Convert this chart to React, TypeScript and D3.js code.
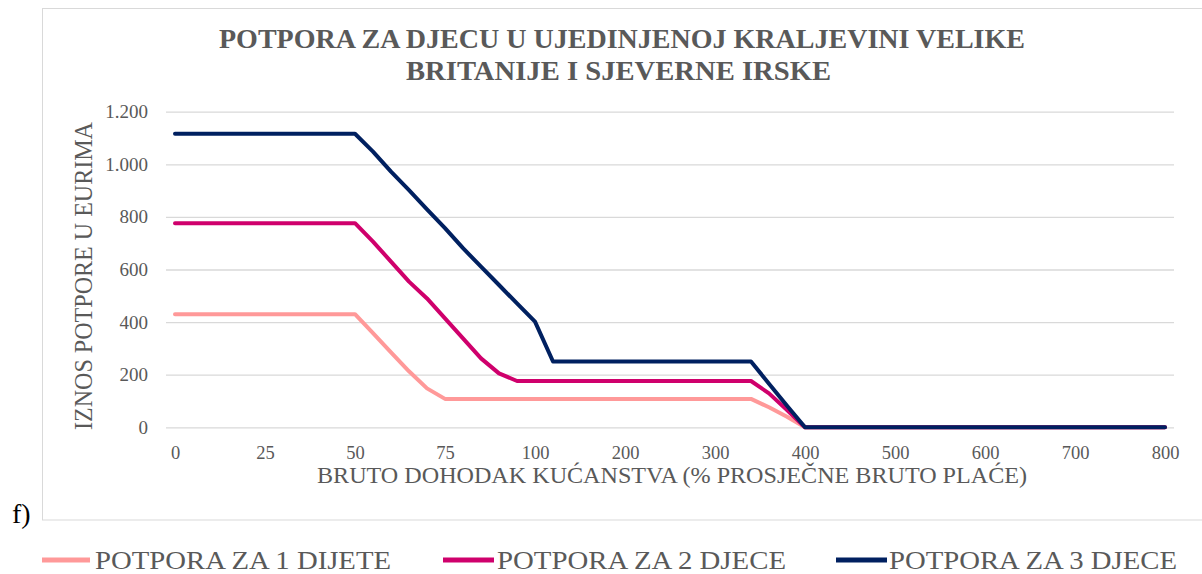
import React, { useRef, useEffect } from "react";
import { select, scaleLinear, scalePoint, line, axisLeft, axisBottom, formatLocale } from "d3";

// income as % of average gross wage (Excel category axis, every 5th shown)
const categories = [
  0, 5, 10, 15, 20, 25, 30, 35, 40, 45, 50, 55, 60, 65, 70, 75, 80, 85, 90, 95, 100,
  120, 140, 160, 180, 200, 220, 240, 260, 280, 300, 320, 340, 360, 380, 400,
  420, 440, 460, 480, 500, 520, 540, 560, 580, 600, 620, 640, 660, 680, 700,
  720, 740, 760, 780, 800,
];
const xTickValues = [0, 25, 50, 75, 100, 200, 300, 400, 500, 600, 700, 800];
const yTickValues = [0, 200, 400, 600, 800, 1000, 1200];

const oneChild = [
  430, 430, 430, 430, 430, 430, 430, 430, 430, 430, 430, 358, 285, 213, 148, 108, 108, 108, 108, 108, 108,
  108, 108, 108, 108, 108, 108, 108, 108, 108, 108, 108, 108, 76, 40, 0,
  0, 0, 0, 0, 0, 0, 0, 0, 0, 0, 0, 0, 0, 0, 0, 0, 0, 0, 0, 0,
];
const twoChildren = [
  776, 776, 776, 776, 776, 776, 776, 776, 776, 776, 776, 706, 630, 554, 490, 414, 338, 262, 205, 176, 176,
  176, 176, 176, 176, 176, 176, 176, 176, 176, 176, 176, 176, 129, 66, 0,
  0, 0, 0, 0, 0, 0, 0, 0, 0, 0, 0, 0, 0, 0, 0, 0, 0, 0, 0, 0,
];
const threeChildren = [
  1116, 1116, 1116, 1116, 1116, 1116, 1116, 1116, 1116, 1116, 1116, 1048, 972, 902, 829, 757, 681, 611, 541, 471, 402,
  250, 250, 250, 250, 250, 250, 250, 250, 250, 250, 250, 250, 166, 82, 0,
  0, 0, 0, 0, 0, 0, 0, 0, 0, 0, 0, 0, 0, 0, 0, 0, 0, 0, 0, 0,
];

const seriesNames = ["POTPORA ZA 1 DIJETE", "POTPORA ZA 2 DJECE", "POTPORA ZA 3 DJECE"];
const seriesColors = ["#FF9999", "#CF006C", "#002060"];

const FONT = "'Liberation Serif', 'Times New Roman', serif";
const GREY = "#595959";

function ChildSupportChart() {
  const svgRef = useRef<SVGSVGElement>(null);

  useEffect(() => {
    const svg = select(svgRef.current);
    svg.selectAll("*").remove();

    const left = 166, right = 1174, top = 111.7, bottom = 427.3;

    const xScale = scalePoint<number>().domain(categories).range([left, right]).padding(0.5);
    const yScale = scaleLinear().domain([0, 1200]).range([bottom, top]);

    const fmt = formatLocale({ decimal: ",", thousands: ".", grouping: [3], currency: ["", "€"] }).format(",d");

    // chart frame
    svg.append("rect")
      .attr("x", 42.5).attr("y", 8.5)
      .attr("width", 1200).attr("height", 511.5)
      .attr("fill", "white").attr("stroke", "#D9D9D9");

    // title
    const title = svg.append("g")
      .attr("font-family", FONT).attr("font-weight", "bold")
      .attr("font-size", 28).attr("fill", GREY);
    title.append("text").attr("x", 219).attr("y", 48)
      .attr("textLength", 806).attr("lengthAdjust", "spacingAndGlyphs")
      .text("POTPORA ZA DJECU U UJEDINJENOJ KRALJEVINI VELIKE");
    title.append("text").attr("x", 406).attr("y", 80)
      .attr("textLength", 425).attr("lengthAdjust", "spacingAndGlyphs")
      .text("BRITANIJE I SJEVERNE IRSKE");

    // y axis + gridlines
    const yAxis = axisLeft(yScale)
      .tickValues(yTickValues)
      .tickSize(-(right - left))
      .tickPadding(18)
      .tickFormat((d) => fmt(d as number));
    const yG = svg.append("g").attr("transform", `translate(${left},0)`).call(yAxis);
    yG.select(".domain").remove();
    yG.selectAll(".tick line").attr("stroke", "#D9D9D9").attr("stroke-width", 1.3);
    yG.selectAll(".tick text")
      .attr("font-family", FONT).attr("font-size", 19).attr("fill", GREY);

    // x axis labels
    const xAxis = axisBottom(xScale)
      .tickValues(xTickValues)
      .tickSize(0)
      .tickPadding(18.5);
    const xG = svg.append("g").attr("transform", `translate(0,${bottom})`).call(xAxis);
    xG.select(".domain").remove();
    xG.selectAll(".tick text")
      .attr("font-family", FONT).attr("font-size", 18.5).attr("fill", GREY);

    // axis titles
    svg.append("text")
      .attr("transform", "translate(92,276) rotate(-90)")
      .attr("text-anchor", "middle")
      .attr("font-family", FONT).attr("font-size", 26).attr("fill", GREY)
      .attr("textLength", 308).attr("lengthAdjust", "spacingAndGlyphs")
      .text("IZNOS POTPORE U EURIMA");
    svg.append("text")
      .attr("x", 317).attr("y", 482.7)
      .attr("font-family", FONT).attr("font-size", 24).attr("fill", GREY)
      .attr("textLength", 710).attr("lengthAdjust", "spacingAndGlyphs")
      .text("BRUTO  DOHODAK KUĆANSTVA (% PROSJEČNE BRUTO  PLAĆE)");

    // series lines
    const seriesData = [oneChild, twoChildren, threeChildren];
    const path = line<number>()
      .x((d, i) => xScale(categories[i]) as number)
      .y((d) => yScale(d));
    svg.selectAll(".series")
      .data(seriesData)
      .join("path")
      .attr("class", "series")
      .attr("d", (d) => path(d))
      .attr("fill", "none")
      .attr("stroke", (d, i) => seriesColors[i])
      .attr("stroke-width", 4)
      .attr("stroke-linejoin", "round")
      .attr("stroke-linecap", "round");

    // "f)" panel marker
    svg.append("text")
      .attr("x", 12).attr("y", 523)
      .attr("font-family", FONT).attr("font-size", 28).attr("fill", "black")
      .text("f)");

    // legend
    const legendLine = [[42, 90], [443, 494], [836, 887]];
    const legendText = [[95, 296], [497, 289], [889, 288]];
    const leg = svg.selectAll(".legend")
      .data(seriesNames)
      .join("g")
      .attr("class", "legend");
    leg.append("line")
      .attr("x1", (d, i) => legendLine[i][0]).attr("x2", (d, i) => legendLine[i][1])
      .attr("y1", 560).attr("y2", 560)
      .attr("stroke", (d, i) => seriesColors[i])
      .attr("stroke-width", 5);
    leg.append("text")
      .attr("x", (d, i) => legendText[i][0]).attr("y", 568.5)
      .attr("font-family", FONT).attr("font-size", 25).attr("fill", GREY)
      .attr("textLength", (d, i) => legendText[i][1]).attr("lengthAdjust", "spacingAndGlyphs")
      .text((d) => d);
  }, []);

  return (
    <svg
      ref={svgRef}
      width={1202}
      height={574}
      style={{ position: "absolute", left: 0, top: 0, background: "white" }}
    />
  );
}

export default function App() {
  return <ChildSupportChart />;
}
